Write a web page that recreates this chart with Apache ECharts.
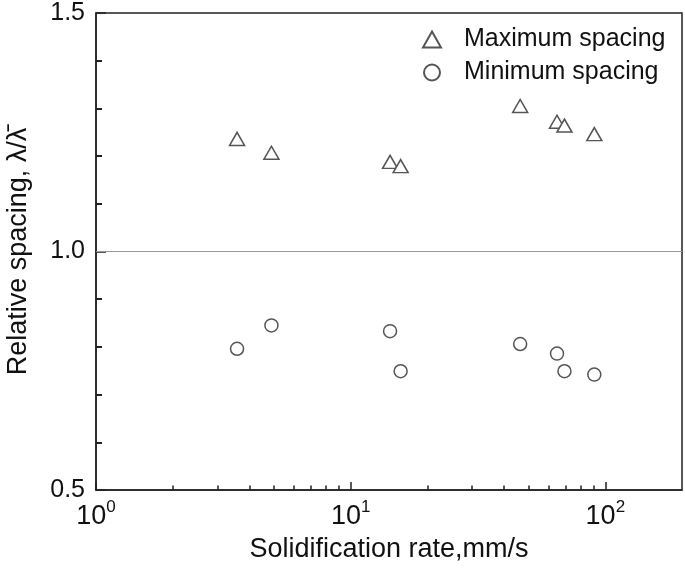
<!DOCTYPE html>
<html>
<head>
<meta charset="utf-8">
<script src="https://cdn.jsdelivr.net/npm/echarts@6/dist/echarts.min.js"></script>
<style>
html,body{margin:0;padding:0;background:#fff;}
#chart{width:685px;height:570px;}
</style>
</head>
<body>
<div id="chart"></div>
<script>
// Data
const rates = [3.58, 4.885, 14.28, 15.71, 46.3, 64.6, 69.1, 90.5];
const maxSpacing = [1.236, 1.207, 1.188, 1.179, 1.305, 1.272, 1.264, 1.246];
const minSpacing = [0.796, 0.845, 0.833, 0.749, 0.806, 0.786, 0.749, 0.742];
const xMajorTicks = [1, 10, 100];
const xMinorTicks = [2, 3, 4, 5, 6, 7, 8, 9, 20, 30, 40, 50, 60, 70, 80, 90];
const yTickLabels = [0.5, 1.0, 1.5];
const yMinorTicks = [0.6, 0.7, 0.8, 0.9, 1.1, 1.2, 1.3, 1.4];
const referenceLine = 1.0;
const seriesNames = ['Maximum spacing', 'Minimum spacing'];

const font = 'Liberation Sans, Arial, sans-serif';
const chart = echarts.init(document.getElementById('chart'));
const toPairs = (xs, ys) => xs.map((x, i) => [x, ys[i]]);
const tickLine = { color: '#222', width: 1.5 };

chart.setOption({
  animation: false,
  backgroundColor: '#fff',
  grid: { left: 96, right: 3, top: 13, bottom: 80, outerBoundsMode: 'none', containLabel: false,
          show: true, borderColor: '#222', borderWidth: 1.5, backgroundColor: 'transparent' },
  legend: {
    orient: 'vertical',
    left: 417, top: 22,
    itemWidth: 18, itemHeight: 16, itemGap: 8,
    textStyle: { fontFamily: font, fontSize: 25, color: '#111', padding: [0, 0, 0, 18] },
    data: [
      { name: seriesNames[0], icon: 'triangle' },
      { name: seriesNames[1], icon: 'circle' }
    ]
  },
  xAxis: [
    {
      type: 'log', logBase: 10, min: 1, max: 200,
      name: 'Solidification rate,mm/s', nameLocation: 'middle', nameGap: 46,
      nameTextStyle: { fontFamily: font, fontSize: 27, color: '#111' },
      axisLine: { show: true, lineStyle: tickLine },
      axisTick: { show: true, inside: true, length: 8, interval: 0, lineStyle: tickLine, customValues: xMajorTicks },
      splitLine: { show: false },
      axisLabel: {
        show: true, margin: 9, interval: 0, customValues: xMajorTicks,
        formatter: v => '{b|10}{s|' + Math.round(Math.log10(v)) + '}',
        rich: {
          b: { fontFamily: font, fontSize: 27, color: '#111', lineHeight: 36 },
          s: { fontFamily: font, fontSize: 17, color: '#111', verticalAlign: 'top', lineHeight: 17 }
        }
      }
    },
    {
      type: 'log', logBase: 10, min: 1, max: 200, position: 'bottom',
      axisLine: { show: false },
      axisTick: { show: true, inside: true, length: 4.5, interval: 0, lineStyle: tickLine, customValues: xMinorTicks },
      axisLabel: { show: false, customValues: xMinorTicks },
      splitLine: { show: false }
    }
  ],
  yAxis: [
    {
      type: 'value', min: 0.5, max: 1.5, interval: 0.5,
      name: 'Relative spacing, λ/λ\u0304', nameLocation: 'middle', nameGap: 64,
      nameTextStyle: { fontFamily: font, fontSize: 27, color: '#111' },
      axisLine: { show: true, lineStyle: tickLine },
      axisTick: { show: true, inside: true, length: 10, interval: 0, lineStyle: tickLine },
      splitLine: { show: false },
      axisLabel: {
        margin: 11, fontFamily: font, fontSize: 25, color: '#111',
        customValues: yTickLabels,
        formatter: v => v.toFixed(1)
      }
    },
    {
      type: 'value', min: 0.5, max: 1.5, position: 'left',
      axisLine: { show: false },
      axisTick: { show: true, inside: true, length: 6, interval: 0, lineStyle: { color: '#222', width: 2 }, customValues: yMinorTicks },
      axisLabel: { show: false, customValues: yMinorTicks },
      splitLine: { show: false }
    }
  ],
  series: [
    {
      name: seriesNames[0], type: 'scatter', symbol: 'triangle', symbolSize: [15, 13],
      itemStyle: { color: '#fff', borderColor: '#555', borderWidth: 1.5, opacity: 1 },
      data: toPairs(rates, maxSpacing),
      markLine: {
        silent: true, symbol: 'none', label: { show: false },
        lineStyle: { color: '#999', width: 1, type: 'solid' },
        data: [{ yAxis: referenceLine }]
      }
    },
    {
      name: seriesNames[1], type: 'scatter', symbol: 'circle', symbolSize: 13,
      itemStyle: { color: '#fff', borderColor: '#555', borderWidth: 1.5, opacity: 1 },
      data: toPairs(rates, minSpacing)
    }
  ]
});
</script>
</body>
</html>
